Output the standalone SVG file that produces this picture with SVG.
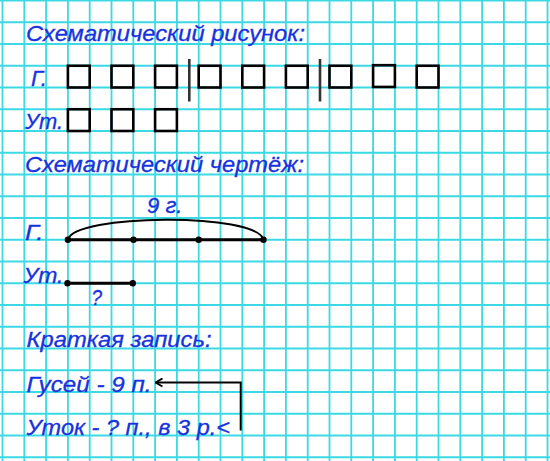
<svg xmlns="http://www.w3.org/2000/svg" width="550" height="461" viewBox="0 0 550 461">
<style>
.grid{stroke:#3ad9e3;stroke-width:1.8;fill:none}
.t{font-family:"Liberation Sans",Arial,sans-serif;font-style:italic;font-size:22px;fill:#1832dd;stroke:#1832dd;stroke-width:0.3}
.sq{fill:none;stroke:#000;stroke-width:2.6}
.bar{stroke:#333;stroke-width:2.6}
.seg{stroke:#000;stroke-width:2.8;fill:none}
.arc{stroke:#000;stroke-width:2;fill:none}
.dot{fill:#000}
.conn{stroke:#000;stroke-width:2;fill:none}
</style>
<defs>
<marker id="arrow" viewBox="0 0 10 10" markerWidth="10" markerHeight="10" refX="9" refY="5" orient="auto" markerUnits="userSpaceOnUse">
<path d="M2,1 L9,5 L2,9" fill="none" stroke="#000" stroke-width="2"/>
</marker>
</defs>
<rect width="550" height="461" fill="#fff"/>
<g id="grid">
<path class="grid" d="M2.5,0V461M24.3,0V461M46.1,0V461M67.9,0V461M89.7,0V461M111.5,0V461M133.3,0V461M155.1,0V461M176.9,0V461M198.7,0V461M220.5,0V461M242.3,0V461M264.1,0V461M285.9,0V461M307.7,0V461M329.5,0V461M351.3,0V461M373.1,0V461M394.9,0V461M416.7,0V461M438.5,0V461M460.3,0V461M482.1,0V461M503.9,0V461M525.7,0V461M547.5,0V461"/>
<path class="grid" d="M0,0.5H550M0,22.25H550M0,44H550M0,65.75H550M0,87.5H550M0,109.25H550M0,131H550M0,152.75H550M0,174.5H550M0,196.25H550M0,218H550M0,239.75H550M0,261.5H550M0,283.25H550M0,305H550M0,326.75H550M0,348.5H550M0,370.25H550M0,392H550M0,413.75H550M0,435.5H550M0,457.25H550"/>
</g>
<g id="title-picture"><text class="t" x="26" y="41" textLength="279" lengthAdjust="spacingAndGlyphs">Схематический рисунок:</text></g>
<g id="picture-geese">
<text class="t" x="31" y="86" textLength="16" lengthAdjust="spacingAndGlyphs">Г.</text>
<rect class="sq" x="67.9" y="65.75" width="21.8" height="21.75"/>
<rect class="sq" x="111.5" y="65.75" width="21.8" height="21.75"/>
<rect class="sq" x="155.1" y="65.75" width="21.8" height="21.75"/>
<line class="bar" x1="189.3" y1="59" x2="189.3" y2="101.5"/>
<rect class="sq" x="198.7" y="65.75" width="21.8" height="21.75"/>
<rect class="sq" x="242.3" y="65.75" width="21.8" height="21.75"/>
<rect class="sq" x="285.9" y="65.75" width="21.8" height="21.75"/>
<line class="bar" x1="320" y1="59" x2="320" y2="101.5"/>
<rect class="sq" x="329.5" y="65.75" width="21.8" height="21.75"/>
<rect class="sq" x="373.1" y="65.2" width="21.8" height="21.75"/>
<rect class="sq" x="416.7" y="65.75" width="21.8" height="21.75"/>
</g>
<g id="picture-ducks">
<text class="t" x="25" y="128.5" textLength="38" lengthAdjust="spacingAndGlyphs">Ут.</text>
<rect class="sq" x="67.9" y="109.25" width="21.8" height="21.75"/>
<rect class="sq" x="111.5" y="109.25" width="21.8" height="21.75"/>
<rect class="sq" x="155.1" y="109.25" width="21.8" height="21.75"/>
</g>
<g id="title-drawing"><text class="t" x="25" y="171.5" textLength="279" lengthAdjust="spacingAndGlyphs">Схематический чертёж:</text></g>
<g id="drawing-geese">
<text class="t" x="147" y="212.5" textLength="35.5" lengthAdjust="spacingAndGlyphs">9 г.</text>
<text class="t" x="25" y="239.5" textLength="18.5" lengthAdjust="spacingAndGlyphs">Г.</text>
<path class="arc" d="M68,240 C72,214 258,212 263.5,240"/>
<line class="seg" x1="67.9" y1="239.75" x2="263.5" y2="239.75"/>
<circle class="dot" cx="67.9" cy="239.75" r="3.2"/>
<circle class="dot" cx="133.5" cy="239.75" r="3.2"/>
<circle class="dot" cx="198.7" cy="239.75" r="3.2"/>
<circle class="dot" cx="263.5" cy="239.75" r="3.2"/>
</g>
<g id="drawing-ducks">
<text class="t" x="23.5" y="282.5" textLength="40" lengthAdjust="spacingAndGlyphs">Ут.</text>
<line class="seg" x1="67.5" y1="283.25" x2="132.8" y2="283.25"/>
<circle class="dot" cx="67.5" cy="283.25" r="3.2"/>
<circle class="dot" cx="132.8" cy="283.25" r="3.2"/>
<text class="t" x="91.5" y="305" textLength="10.5" lengthAdjust="spacingAndGlyphs">?</text>
</g>
<g id="title-short"><text class="t" x="26.5" y="346.5" textLength="185" lengthAdjust="spacingAndGlyphs">Краткая запись:</text></g>
<g id="short-geese"><text class="t" x="26.5" y="391.5" textLength="125" lengthAdjust="spacingAndGlyphs">Гусей - 9 п.</text></g>
<g id="short-ducks"><text class="t" x="26.5" y="435" textLength="203.5" lengthAdjust="spacingAndGlyphs">Уток - ? п., в 3 р.&lt;</text></g>
<g id="connectors">
<path class="conn" d="M240.7,430.5 V382.5 H155.5" marker-end="url(#arrow)"/>
</g>
</svg>
